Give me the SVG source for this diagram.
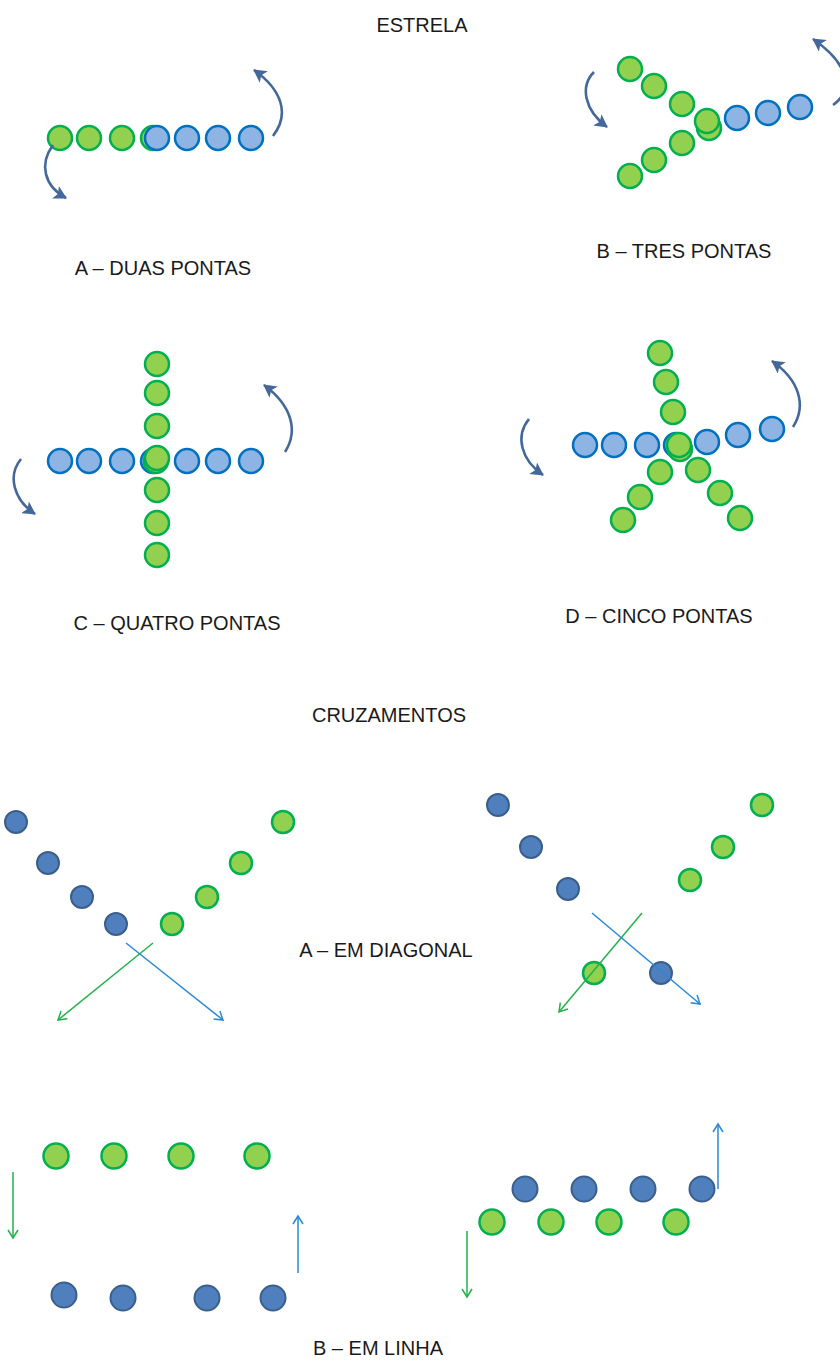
<svg xmlns="http://www.w3.org/2000/svg" width="840" height="1363" viewBox="0 0 840 1363">
<style>
text{font-family:"Liberation Sans",Arial,sans-serif;font-size:20px;fill:#1a1a1a;text-anchor:middle}
.g{fill:#92D050;stroke:#00B050;stroke-width:2.5}
.lb{fill:#8DB4E2;stroke:#0070C0;stroke-width:2.5}
.db{fill:#4F7FBC;stroke:#3A5F8C;stroke-width:2}
.cv{fill:none;stroke:#44689A;stroke-width:2.6;marker-end:url(#hd)}
.tg{fill:none;stroke:#22B24C;stroke-width:1.5;marker-end:url(#og)}
.tb{fill:none;stroke:#2A88D4;stroke-width:1.5;marker-end:url(#ob)}
</style>
<defs>
<marker id="hd" markerUnits="userSpaceOnUse" markerWidth="16" markerHeight="14" refX="12" refY="7" orient="auto">
<path d="M0,0 L13,7 L0,14 L3,7 Z" fill="#44689A"/>
</marker>
<marker id="og" markerUnits="userSpaceOnUse" markerWidth="12" markerHeight="12" refX="9" refY="6" orient="auto">
<path d="M1,1 L9,6 L1,11" fill="none" stroke="#22B24C" stroke-width="1.5"/>
</marker>
<marker id="ob" markerUnits="userSpaceOnUse" markerWidth="12" markerHeight="12" refX="9" refY="6" orient="auto">
<path d="M1,1 L9,6 L1,11" fill="none" stroke="#2A88D4" stroke-width="1.5"/>
</marker>
</defs>
<rect width="840" height="1363" fill="#ffffff"/>

<g id="labels">
<text x="422" y="32">ESTRELA</text>
<text x="163" y="275">A – DUAS PONTAS</text>
<text x="684" y="258">B – TRES PONTAS</text>
<text x="177" y="630">C – QUATRO PONTAS</text>
<text x="659" y="623">D – CINCO PONTAS</text>
<text x="389" y="722">CRUZAMENTOS</text>
<text x="386" y="957">A – EM DIAGONAL</text>
<text x="378" y="1355">B – EM LINHA</text>
</g>

<g id="star-a">
<g id="a-g1"><circle class="g" cx="60" cy="138" r="12"/></g>
<g id="a-g2"><circle class="g" cx="89" cy="138" r="12"/></g>
<g id="a-g3"><circle class="g" cx="122" cy="138" r="12"/></g>
<g id="a-g4"><circle class="g" cx="153" cy="138" r="12"/></g>
<g id="a-b1"><circle class="lb" cx="157" cy="138" r="12"/></g>
<g id="a-b2"><circle class="lb" cx="187" cy="138" r="12"/></g>
<g id="a-b3"><circle class="lb" cx="218" cy="138" r="12"/></g>
<g id="a-b4"><circle class="lb" cx="251" cy="138" r="12"/></g>
</g>

<g id="star-b">
<g id="b-b1"><circle class="lb" cx="737" cy="118" r="12"/></g>
<g id="b-b2"><circle class="lb" cx="768" cy="113" r="12"/></g>
<g id="b-b3"><circle class="lb" cx="800" cy="107" r="12"/></g>
<g id="b-g1"><circle class="g" cx="630" cy="69" r="12"/></g>
<g id="b-g2"><circle class="g" cx="654" cy="86" r="12"/></g>
<g id="b-g3"><circle class="g" cx="682" cy="104" r="12"/></g>
<g id="b-g4"><circle class="g" cx="709" cy="128" r="12"/></g>
<g id="b-g5"><circle class="g" cx="707" cy="121" r="12"/></g>
<g id="b-g6"><circle class="g" cx="682" cy="143" r="12"/></g>
<g id="b-g7"><circle class="g" cx="654" cy="160" r="12"/></g>
<g id="b-g8"><circle class="g" cx="630" cy="176" r="12"/></g>
</g>

<g id="star-c">
<g id="c-b1"><circle class="lb" cx="60" cy="461" r="12"/></g>
<g id="c-b2"><circle class="lb" cx="89" cy="461" r="12"/></g>
<g id="c-b3"><circle class="lb" cx="122" cy="461" r="12"/></g>
<g id="c-b4"><circle class="lb" cx="153" cy="461" r="12"/></g>
<g id="c-b5"><circle class="lb" cx="187" cy="461" r="12"/></g>
<g id="c-b6"><circle class="lb" cx="218" cy="461" r="12"/></g>
<g id="c-b7"><circle class="lb" cx="251" cy="461" r="12"/></g>
<g id="c-g1"><circle class="g" cx="157" cy="364" r="12"/></g>
<g id="c-g2"><circle class="g" cx="157" cy="393" r="12"/></g>
<g id="c-g3"><circle class="g" cx="157" cy="426" r="12"/></g>
<g id="c-g4"><circle class="g" cx="156" cy="461" r="12"/></g>
<g id="c-g5"><circle class="g" cx="157" cy="458" r="12"/></g>
<g id="c-g6"><circle class="g" cx="157" cy="490" r="12"/></g>
<g id="c-g7"><circle class="g" cx="157" cy="523" r="12"/></g>
<g id="c-g8"><circle class="g" cx="157" cy="555" r="12"/></g>
</g>

<g id="star-d">
<g id="d-b1"><circle class="lb" cx="585" cy="445" r="12"/></g>
<g id="d-b2"><circle class="lb" cx="614" cy="445" r="12"/></g>
<g id="d-b3"><circle class="lb" cx="647" cy="445" r="12"/></g>
<g id="d-b4"><circle class="lb" cx="676" cy="445" r="12"/></g>
<g id="d-b5"><circle class="lb" cx="707" cy="442" r="12"/></g>
<g id="d-b6"><circle class="lb" cx="738" cy="435" r="12"/></g>
<g id="d-b7"><circle class="lb" cx="772" cy="429" r="12"/></g>
<g id="d-g1"><circle class="g" cx="660" cy="353" r="12"/></g>
<g id="d-g2"><circle class="g" cx="666" cy="382" r="12"/></g>
<g id="d-g3"><circle class="g" cx="673" cy="412" r="12"/></g>
<g id="d-g4"><circle class="g" cx="680" cy="449" r="12"/></g>
<g id="d-g5"><circle class="g" cx="679" cy="445" r="12"/></g>
<g id="d-g6"><circle class="g" cx="660" cy="472" r="12"/></g>
<g id="d-g7"><circle class="g" cx="640" cy="497" r="12"/></g>
<g id="d-g8"><circle class="g" cx="623" cy="520" r="12"/></g>
<g id="d-g9"><circle class="g" cx="698" cy="470" r="12"/></g>
<g id="d-g10"><circle class="g" cx="720" cy="493" r="12"/></g>
<g id="d-g11"><circle class="g" cx="740" cy="518" r="12"/></g>
</g>

<g id="cross-a1">
<g id="x1-b1"><circle class="db" cx="16" cy="822" r="11"/></g>
<g id="x1-b2"><circle class="db" cx="48" cy="863" r="11"/></g>
<g id="x1-b3"><circle class="db" cx="82" cy="897" r="11"/></g>
<g id="x1-b4"><circle class="db" cx="116" cy="924" r="11"/></g>
<g id="x1-g1"><circle class="g" cx="283" cy="822" r="11"/></g>
<g id="x1-g2"><circle class="g" cx="241" cy="863" r="11"/></g>
<g id="x1-g3"><circle class="g" cx="207" cy="897" r="11"/></g>
<g id="x1-g4"><circle class="g" cx="172" cy="924" r="11"/></g>
</g>

<g id="cross-a2">
<g id="x2-b1"><circle class="db" cx="498" cy="805" r="11"/></g>
<g id="x2-b2"><circle class="db" cx="531" cy="847" r="11"/></g>
<g id="x2-b3"><circle class="db" cx="568" cy="889" r="11"/></g>
<g id="x2-b4"><circle class="db" cx="661" cy="973" r="11"/></g>
<g id="x2-g1"><circle class="g" cx="762" cy="805" r="11"/></g>
<g id="x2-g2"><circle class="g" cx="723" cy="847" r="11"/></g>
<g id="x2-g3"><circle class="g" cx="690" cy="880" r="11"/></g>
<g id="x2-g4"><circle class="g" cx="594" cy="973" r="11"/></g>
</g>

<g id="line-b1">
<g id="l1-g1"><circle class="g" cx="56" cy="1156" r="12.5"/></g>
<g id="l1-g2"><circle class="g" cx="114" cy="1156" r="12.5"/></g>
<g id="l1-g3"><circle class="g" cx="181" cy="1156" r="12.5"/></g>
<g id="l1-g4"><circle class="g" cx="257" cy="1156" r="12.5"/></g>
<g id="l1-b1"><circle class="db" cx="64" cy="1295" r="12.5"/></g>
<g id="l1-b2"><circle class="db" cx="123" cy="1298" r="12.5"/></g>
<g id="l1-b3"><circle class="db" cx="207" cy="1298" r="12.5"/></g>
<g id="l1-b4"><circle class="db" cx="273" cy="1298" r="12.5"/></g>
</g>

<g id="line-b2">
<g id="l2-b1"><circle class="db" cx="525" cy="1189" r="12.5"/></g>
<g id="l2-b2"><circle class="db" cx="584" cy="1189" r="12.5"/></g>
<g id="l2-b3"><circle class="db" cx="643" cy="1189" r="12.5"/></g>
<g id="l2-b4"><circle class="db" cx="702" cy="1189" r="12.5"/></g>
<g id="l2-g1"><circle class="g" cx="492" cy="1222" r="12.5"/></g>
<g id="l2-g2"><circle class="g" cx="551" cy="1222" r="12.5"/></g>
<g id="l2-g3"><circle class="g" cx="609" cy="1222" r="12.5"/></g>
<g id="l2-g4"><circle class="g" cx="676" cy="1222" r="12.5"/></g>
</g>

<g id="connectors">
<path class="cv" d="M273,136 C290,114 282,90 254,70"/>
<path class="cv" d="M53,145 C39,164 44,186 66,198"/>
<path class="cv" d="M594,72 C580,86 584,110 607,127"/>
<path class="cv" d="M833,105 C852,92 852,66 813,39"/>
<path class="cv" d="M285,452 C299,430 291,405 264,385"/>
<path class="cv" d="M21,459 C7,476 14,500 35,514"/>
<path class="cv" d="M793,427 C807,405 799,380 772,361"/>
<path class="cv" d="M529,419 C515,436 521,460 543,475"/>
<path class="tg" d="M153,943 L58,1020"/>
<path class="tb" d="M126,943 L223,1020"/>
<path class="tg" d="M642,913 L559,1012"/>
<path class="tb" d="M592,913 L700,1004"/>
<path class="tg" d="M13,1172 L13,1238"/>
<path class="tb" d="M298,1273 L298,1216"/>
<path class="tb" d="M718,1189 L718,1124"/>
<path class="tg" d="M467,1231 L467,1297"/>
</g>
</svg>
